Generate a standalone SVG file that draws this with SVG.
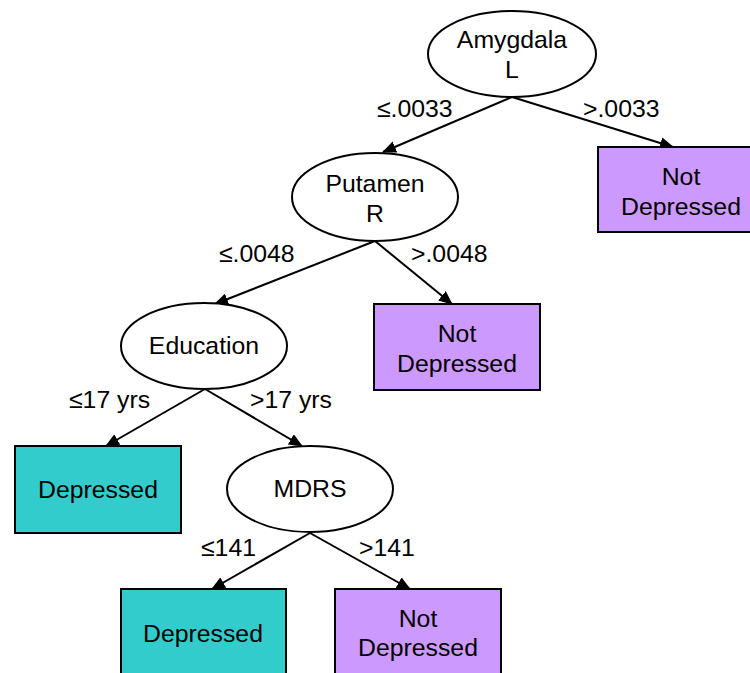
<svg xmlns="http://www.w3.org/2000/svg" width="750" height="673" viewBox="0 0 750 673">
<style>
text{font-family:"Liberation Sans",Arial,sans-serif;font-size:24.8px;fill:#000;text-anchor:middle}
.lbl{text-anchor:start}
.split{fill:#fff;stroke:#000;stroke-width:2}
.dep{fill:#33CCCC;stroke:#000;stroke-width:2}
.nd{fill:#CC99FF;stroke:#000;stroke-width:2}
.edge{stroke:#000;stroke-width:2;fill:none;marker-end:url(#arr)}
</style>
<defs>
<marker id="arr" markerUnits="userSpaceOnUse" markerWidth="14" markerHeight="12" viewBox="0 0 14 12" refX="13" refY="6" orient="auto">
<path d="M0,0 L14,6 L0,12 Z" fill="#000"/>
</marker>
</defs>
<rect width="750" height="673" fill="#fff"/>
<g id="edges">
<line class="edge" x1="512" y1="97" x2="383" y2="152"/>
<line class="edge" x1="512" y1="97" x2="673" y2="147"/>
<line class="edge" x1="375" y1="241" x2="215" y2="304"/>
<line class="edge" x1="375" y1="241" x2="452" y2="304"/>
<line class="edge" x1="205" y1="389" x2="106" y2="446"/>
<line class="edge" x1="205" y1="389" x2="302" y2="446"/>
<line class="edge" x1="310" y1="533" x2="212" y2="589"/>
<line class="edge" x1="310" y1="533" x2="410" y2="589"/>
</g>
<g id="edge-labels">
<text class="lbl" x="377" y="117">≤.0033</text>
<text class="lbl" x="583" y="117">&gt;.0033</text>
<text class="lbl" x="219" y="262">≤.0048</text>
<text class="lbl" x="411" y="262">&gt;.0048</text>
<text class="lbl" x="69" y="408">≤17 yrs</text>
<text class="lbl" x="250" y="408">&gt;17 yrs</text>
<text class="lbl" x="201" y="556">≤141</text>
<text class="lbl" x="359" y="556">&gt;141</text>
</g>
<g id="amygdala">
<ellipse class="split" cx="512" cy="54" rx="84" ry="43"/>
<text x="512" y="48">Amygdala</text>
<text x="512" y="78">L</text>
</g>
<g id="nd1">
<rect class="nd" x="598" y="147" width="166" height="85"/>
<text x="681" y="185">Not</text>
<text x="681" y="215">Depressed</text>
</g>
<g id="putamen">
<ellipse class="split" cx="375" cy="197" rx="83" ry="44"/>
<text x="375" y="192">Putamen</text>
<text x="375" y="222">R</text>
</g>
<g id="nd2">
<rect class="nd" x="374" y="304" width="166" height="86"/>
<text x="457" y="342">Not</text>
<text x="457" y="372">Depressed</text>
</g>
<g id="education">
<ellipse class="split" cx="204" cy="346" rx="83" ry="43"/>
<text x="204" y="354">Education</text>
</g>
<g id="dep1">
<rect class="dep" x="15" y="446" width="166" height="87"/>
<text x="98" y="498">Depressed</text>
</g>
<g id="mdrs">
<ellipse class="split" cx="310" cy="489" rx="83" ry="43"/>
<text x="310" y="497">MDRS</text>
</g>
<g id="dep2">
<rect class="dep" x="121" y="589" width="165" height="90"/>
<text x="203" y="642">Depressed</text>
</g>
<g id="nd3">
<rect class="nd" x="335" y="589" width="166" height="90"/>
<text x="418" y="627">Not</text>
<text x="418" y="656">Depressed</text>
</g>
</svg>
